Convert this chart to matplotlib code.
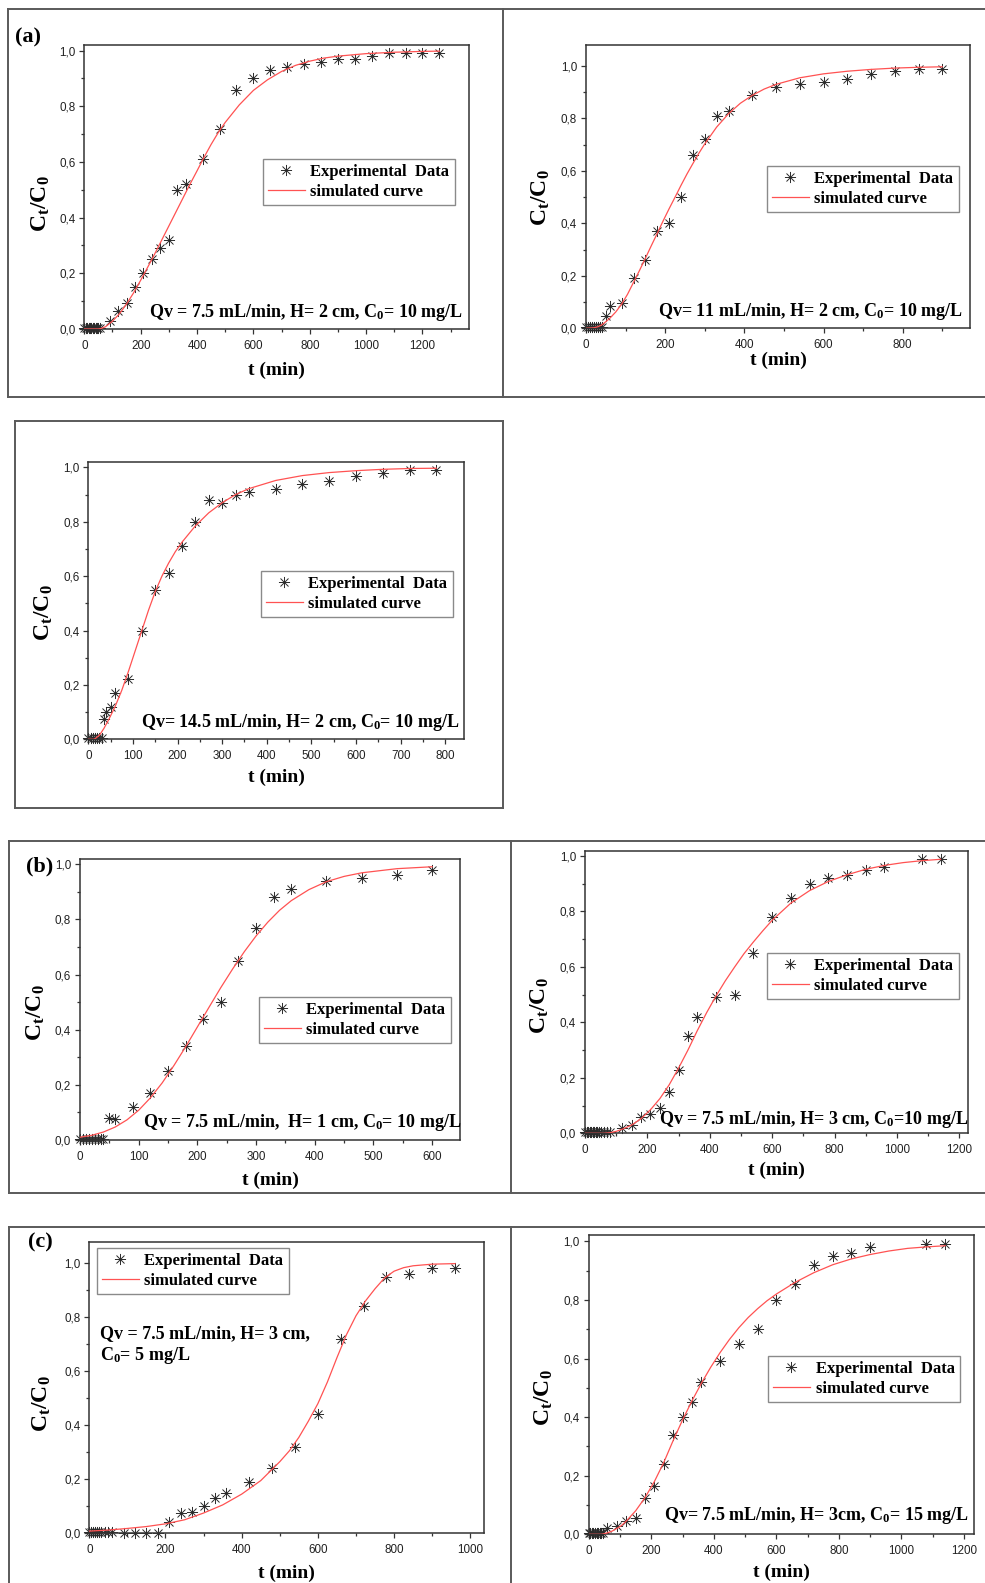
import matplotlib.pyplot as plt
from matplotlib.lines import Line2D
from matplotlib.path import Path
from matplotlib.ticker import MultipleLocator

W, H = 985, 1583

# ---------------- data ----------------
# (a) Qv = 7.5 mL/min, H = 2 cm, C0 = 10 mg/L
t_a1 = [0, 5, 10, 15, 20, 25, 30, 35, 40, 45, 50, 55, 90, 120, 150, 180, 210, 240, 270, 300,
        330, 360, 420, 480, 540, 600, 660, 720, 780, 840, 900, 960, 1020, 1080, 1140, 1200, 1260]
c_a1 = [0.005, 0.005, 0.005, 0.005, 0.005, 0.005, 0.005, 0.005, 0.005, 0.005, 0.005, 0.005,
        0.03, 0.065, 0.095, 0.15, 0.20, 0.25, 0.29, 0.32, 0.50, 0.52, 0.61, 0.72, 0.86, 0.90,
        0.93, 0.94, 0.95, 0.96, 0.97, 0.97, 0.98, 0.99, 0.99, 0.99, 0.99]
ts_a1 = [0, 50, 60, 75, 90, 100, 125, 150, 175, 200, 225, 250, 275, 300, 325, 350, 375, 400,
         425, 450, 475, 500, 550, 600, 650, 700, 750, 800, 850, 900, 1000, 1100, 1200, 1260]
cs_a1 = [0.0, 0.0, 0.002, 0.008, 0.02, 0.028, 0.055, 0.09, 0.13, 0.175, 0.222, 0.27, 0.32,
         0.37, 0.42, 0.47, 0.52, 0.568, 0.617, 0.663, 0.705, 0.742, 0.805, 0.857, 0.895,
         0.925, 0.947, 0.962, 0.973, 0.98, 0.989, 0.994, 0.997, 0.998]

# Qv = 11 mL/min, H = 2 cm, C0 = 10 mg/L
t_a2 = [0, 5, 10, 15, 20, 25, 30, 35, 40, 50, 60, 90, 120, 150, 180, 210, 240, 270, 300, 330,
        360, 420, 480, 540, 600, 660, 720, 780, 840, 900]
c_a2 = [0.004, 0.004, 0.004, 0.004, 0.004, 0.004, 0.004, 0.004, 0.004, 0.045, 0.085, 0.095,
        0.19, 0.26, 0.37, 0.40, 0.50, 0.66, 0.72, 0.81, 0.83, 0.89, 0.92, 0.93, 0.94, 0.95,
        0.97, 0.98, 0.99, 0.99]
ts_a2 = [0, 20, 30, 40, 50, 60, 75, 90, 105, 120, 135, 150, 165, 180, 195, 210, 225, 240, 255,
         270, 285, 300, 330, 360, 390, 420, 450, 480, 540, 600, 660, 720, 780, 840, 900]
cs_a2 = [0.0, 0.002, 0.006, 0.013, 0.025, 0.038, 0.062, 0.092, 0.13, 0.175, 0.22, 0.267, 0.315,
         0.362, 0.41, 0.456, 0.5, 0.545, 0.588, 0.628, 0.667, 0.703, 0.767, 0.818, 0.858,
         0.888, 0.912, 0.93, 0.955, 0.97, 0.98, 0.987, 0.992, 0.995, 0.997]

# Qv = 14.5 mL/min, H = 2 cm, C0 = 10 mg/L
t_a3 = [0, 5, 10, 15, 20, 25, 30, 35, 40, 50, 60, 90, 120, 150, 180, 210, 240, 270, 300, 330,
        360, 420, 480, 540, 600, 660, 720, 780]
c_a3 = [0.003, 0.003, 0.003, 0.003, 0.003, 0.003, 0.003, 0.075, 0.10, 0.12, 0.17, 0.22, 0.40,
        0.55, 0.61, 0.71, 0.80, 0.88, 0.87, 0.90, 0.91, 0.92, 0.94, 0.95, 0.97, 0.98, 0.99, 0.99]
ts_a3 = [0, 12, 15, 25, 35, 45, 60, 75, 90, 105, 120, 135, 150, 165, 180, 195, 210, 240, 270,
         300, 330, 360, 420, 480, 540, 600, 660, 720, 780]
cs_a3 = [0.0, 0.0, 0.002, 0.015, 0.04, 0.07, 0.12, 0.18, 0.25, 0.325, 0.40, 0.475, 0.543, 0.6,
         0.648, 0.69, 0.725, 0.785, 0.833, 0.87, 0.9, 0.922, 0.952, 0.97, 0.981, 0.988, 0.993,
         0.996, 0.997]

# (b) Qv = 7.5 mL/min, H = 1 cm, C0 = 10 mg/L
t_b1 = [0, 5, 10, 15, 20, 25, 30, 35, 40, 50, 60, 90, 120, 150, 180, 210, 240, 270, 300, 330,
        360, 420, 480, 540, 600]
c_b1 = [0.005, 0.005, 0.005, 0.005, 0.005, 0.005, 0.005, 0.005, 0.005, 0.08, 0.076, 0.12, 0.17,
        0.25, 0.34, 0.44, 0.50, 0.65, 0.77, 0.88, 0.91, 0.94, 0.95, 0.96, 0.98]
ts_b1 = [0, 20, 40, 60, 80, 100, 120, 140, 160, 180, 200, 220, 240, 260, 280, 300, 320, 340,
         360, 390, 420, 450, 480, 540, 600]
cs_b1 = [0.01, 0.017, 0.029, 0.047, 0.073, 0.108, 0.153, 0.207, 0.27, 0.338, 0.41, 0.482, 0.553,
         0.62, 0.683, 0.74, 0.79, 0.833, 0.868, 0.908, 0.937, 0.956, 0.969, 0.984, 0.991]

# Qv = 7.5 mL/min, H = 3 cm, C0 = 10 mg/L
t_b2 = [0, 5, 10, 15, 20, 25, 30, 35, 40, 45, 50, 60, 70, 80, 120, 150, 180, 210, 240, 270, 300,
        330, 360, 420, 480, 540, 600, 660, 720, 780, 840, 900, 960, 1080, 1140]
c_b2 = [0.005, 0.005, 0.005, 0.005, 0.005, 0.005, 0.005, 0.005, 0.005, 0.005, 0.005, 0.005,
        0.005, 0.005, 0.02, 0.03, 0.06, 0.07, 0.09, 0.15, 0.23, 0.35, 0.42, 0.49, 0.50, 0.65,
        0.78, 0.85, 0.90, 0.92, 0.93, 0.95, 0.96, 0.99, 0.99]
ts_b2 = [0, 60, 80, 100, 120, 150, 180, 210, 240, 270, 300, 330, 360, 390, 420, 450, 480, 510,
         540, 570, 600, 660, 720, 780, 840, 900, 960, 1020, 1080, 1140]
cs_b2 = [0.0, 0.0, 0.002, 0.007, 0.015, 0.03, 0.053, 0.085, 0.125, 0.175, 0.235, 0.3, 0.37,
         0.435, 0.495, 0.55, 0.6, 0.648, 0.69, 0.73, 0.768, 0.83, 0.875, 0.908, 0.932, 0.952,
         0.966, 0.976, 0.983, 0.988]

# (c) Qv = 7.5 mL/min, H = 3 cm, C0 = 5 mg/L
t_c1 = [0, 5, 10, 15, 20, 25, 30, 40, 50, 60, 90, 120, 150, 180, 210, 240, 270, 300, 330, 360,
        420, 480, 540, 600, 660, 720, 780, 840, 900, 960]
c_c1 = [0.004, 0.004, 0.004, 0.004, 0.004, 0.004, 0.004, 0.004, 0.004, 0.004, 0.0, 0.0, 0.0,
        0.0, 0.04, 0.075, 0.08, 0.10, 0.13, 0.15, 0.19, 0.24, 0.32, 0.44, 0.72, 0.84, 0.95,
        0.96, 0.98, 0.98]
ts_c1 = [0, 50, 100, 150, 200, 250, 300, 350, 400, 450, 500, 525, 550, 575, 600, 625, 650, 675,
         700, 725, 750, 775, 800, 825, 850, 900, 960]
cs_c1 = [0.008, 0.012, 0.018, 0.025, 0.035, 0.05, 0.075, 0.105, 0.145, 0.195, 0.265, 0.305,
         0.355, 0.415, 0.48, 0.56, 0.65, 0.735, 0.805, 0.86, 0.905, 0.945, 0.97, 0.983, 0.99,
         0.996, 0.998]

# Qv = 7.5 mL/min, H = 3 cm, C0 = 15 mg/L
t_c2 = [0, 5, 10, 15, 20, 25, 30, 35, 40, 45, 60, 90, 120, 150, 180, 210, 240, 270, 300, 330,
        360, 420, 480, 540, 600, 660, 720, 780, 840, 900, 1080, 1140]
c_c2 = [0.003, 0.003, 0.003, 0.003, 0.003, 0.003, 0.003, 0.003, 0.003, 0.003, 0.02, 0.03, 0.045,
        0.055, 0.125, 0.165, 0.24, 0.34, 0.40, 0.45, 0.52, 0.59, 0.65, 0.70, 0.80, 0.855, 0.92,
        0.95, 0.96, 0.98, 0.99, 0.99]
ts_c2 = [0, 40, 50, 60, 75, 90, 105, 120, 150, 180, 210, 240, 270, 300, 330, 360, 390, 420, 450,
         480, 510, 540, 570, 600, 660, 720, 780, 840, 900, 960, 1020, 1080, 1140]
cs_c2 = [0.0, 0.0, 0.002, 0.005, 0.011, 0.02, 0.03, 0.045, 0.08, 0.125, 0.18, 0.245, 0.32, 0.39,
         0.455, 0.515, 0.57, 0.62, 0.665, 0.705, 0.74, 0.77, 0.797, 0.82, 0.86, 0.893, 0.92,
         0.94, 0.955, 0.967, 0.976, 0.981, 0.985]

y_ticks = [0.0, 0.2, 0.4, 0.6, 0.8, 1.0]
y_tick_labels = ['0,0', '0,2', '0,4', '0,6', '0,8', '1,0']

notes = {
    'a1': 'Qv = 7.5 mL/min, H= 2 cm, C$_0$= 10 mg/L',
    'a2': 'Qv= 11 mL/min, H= 2 cm, C$_0$= 10 mg/L',
    'a3': 'Qv= 14.5 mL/min, H= 2 cm, C$_0$= 10 mg/L',
    'b1': 'Qv = 7.5 mL/min,  H= 1 cm, C$_0$= 10 mg/L',
    'b2': 'Qv = 7.5 mL/min, H= 3 cm, C$_0$=10 mg/L',
    'c1': 'Qv = 7.5 mL/min, H= 3 cm,\nC$_0$= 5 mg/L',
    'c2': 'Qv= 7.5 mL/min, H= 3cm, C$_0$= 15 mg/L',
}

# ---------------- layout (pixels) ----------------
panels = [
    dict(key='a1', t=t_a1, c=c_a1, ts=ts_a1, cs=cs_a1, box=(84.3, 45, 469, 329),
         xlim=1365, ylim=1.02, xmaj=200, xticks_max=1200, leg=(263, 159),
         note=(463, 317, 'right'), xlab=370, ylab=(41, 204)),
    dict(key='a2', t=t_a2, c=c_a2, ts=ts_a2, cs=cs_a2, box=(586, 45, 970, 328.3),
         xlim=970, ylim=1.08, xmaj=200, xticks_max=800, leg=(767, 166),
         note=(963, 316, 'right'), xlab=360, ylab=(541, 198)),
    dict(key='a3', t=t_a3, c=c_a3, ts=ts_a3, cs=cs_a3, box=(88.3, 461.7, 464, 739.3),
         xlim=842, ylim=1.021, xmaj=100, xticks_max=800, leg=(261, 571),
         note=(459, 727, 'right'), xlab=777, ylab=(44, 613)),
    dict(key='b1', t=t_b1, c=c_b1, ts=ts_b1, cs=cs_b1, box=(80, 859.3, 460.3, 1140),
         xlim=648, ylim=1.018, xmaj=100, xticks_max=600, leg=(259, 997),
         note=(461, 1127, 'right'), xlab=1180, ylab=(36, 1013)),
    dict(key='b2', t=t_b2, c=c_b2, ts=ts_b2, cs=cs_b2, box=(585, 850.7, 968.3, 1133.3),
         xlim=1229, ylim=1.019, xmaj=200, xticks_max=1200, leg=(767, 953),
         note=(968, 1124, 'right'), xlab=1170, ylab=(540, 1006)),
    dict(key='c1', t=t_c1, c=c_c1, ts=ts_c1, cs=cs_c1, box=(89.3, 1242, 484, 1533.3),
         xlim=1036, ylim=1.078, xmaj=200, xticks_max=1000, leg=(97, 1248),
         note=(100, 1360, 'left'), xlab=1573, ylab=(42, 1404)),
    dict(key='c2', t=t_c2, c=c_c2, ts=ts_c2, cs=cs_c2, box=(588.7, 1235, 974, 1534.3),
         xlim=1232, ylim=1.0216, xmaj=200, xticks_max=1200, leg=(768, 1356),
         note=(969, 1520, 'right'), xlab=1572, ylab=(544, 1398)),
]

frame_lines = [
    ((8, 985), (9, 9)), ((8, 985), (397, 397)), ((8, 8), (9, 397)), ((503, 503), (9, 397)),
    ((15, 503), (421, 421)), ((15, 503), (808, 808)), ((15, 15), (421, 808)), ((503, 503), (421, 808)),
    ((9, 985), (841, 841)), ((9, 985), (1193, 1193)), ((9, 9), (841, 1193)), ((511, 511), (841, 1193)),
    ((9, 985), (1227, 1227)), ((9, 9), (1227, 1583)), ((511, 511), (1227, 1583)),
]

panel_letters = [('(a)', 27.5, 37.5), ('(b)', 39.5, 866), ('(c)', 40, 1242)]

plt.rcParams['font.family'] = 'Liberation Serif'
plt.rcParams['mathtext.fontset'] = 'custom'
plt.rcParams['mathtext.rm'] = 'Liberation Serif:bold'
plt.rcParams['mathtext.default'] = 'regular'

# Origin-style asterisk symbol (8 spokes)
star = Path([(-1, 0), (1, 0), (0, -1), (0, 1),
             (-0.72, -0.72), (0.72, 0.72), (-0.72, 0.72), (0.72, -0.72)],
            [Path.MOVETO, Path.LINETO] * 4)


def fx(x):
    return x / W


def fy(y):
    return 1 - y / H


fig = plt.figure(figsize=(W / 100, H / 100), dpi=100)

for (xs, ys) in frame_lines:
    fig.add_artist(Line2D([fx(v) for v in xs], [fy(v) for v in ys],
                          transform=fig.transFigure, color='#5a5a5a', lw=1.4))

for lab, x, y in panel_letters:
    fig.text(fx(x), fy(y), lab, fontsize=16, fontweight='bold', ha='center', va='center')

for p in panels:
    l, t, r, b = p['box']
    ax = fig.add_axes([fx(l), fy(b), (r - l) / W, (b - t) / H])
    ax.plot(p['t'], p['c'], linestyle='none', marker=star, ms=8, mew=0.7,
            mec='#2a2a2a', mfc='none', label='Experimental  Data', zorder=2, clip_on=False)
    ax.plot(p['ts'], p['cs'], color='#ff5252', lw=0.9, label='simulated curve', zorder=3)
    ax.set_xlim(0, p['xlim'])
    ax.set_ylim(0, p['ylim'])

    xt = list(range(0, p['xticks_max'] + 1, p['xmaj']))
    ax.set_xticks(xt, [str(v) for v in xt], fontfamily='Liberation Sans', fontsize=8.4)
    ax.set_yticks(y_ticks, y_tick_labels, fontfamily='Liberation Sans', fontsize=8.4)
    ax.xaxis.set_minor_locator(MultipleLocator(p['xmaj'] / 2))
    ax.yaxis.set_minor_locator(MultipleLocator(0.1))
    ax.tick_params(which='both', direction='out', top=False, right=False,
                   color='#333333', labelcolor='#222222', width=0.9)
    ax.tick_params(which='major', length=3.6)
    ax.tick_params(which='minor', length=2.2)
    ax.tick_params(axis='x', pad=4)
    ax.tick_params(axis='y', pad=2.8)
    for s in ax.spines.values():
        s.set_color('#333333')
        s.set_linewidth(1.1)

    ax.set_xlabel('t (min)', fontsize=14, fontweight='bold')
    ax.xaxis.set_label_coords(fx((l + r) / 2), fy(p['xlab']), transform=fig.transFigure)
    ax.xaxis.label.set_va('center')
    ax.set_ylabel('C$_t$/C$_0$', fontsize=17, fontweight='bold')
    ax.yaxis.set_label_coords(fx(p['ylab'][0]), fy(p['ylab'][1]), transform=fig.transFigure)
    ax.yaxis.label.set_va('center')

    nx, ny, ha = p['note']
    fig.text(fx(nx), fy(ny), notes[p['key']], fontsize=13, fontweight='bold',
             ha=ha, va='baseline', linespacing=1.2)

    leg = ax.legend(loc='upper left', bbox_to_anchor=(fx(p['leg'][0]), fy(p['leg'][1])),
                    bbox_transform=fig.transFigure, borderaxespad=0, fancybox=False,
                    edgecolor='#8a8a8a', framealpha=1, handlelength=2.2, handletextpad=0.35,
                    borderpad=0.3, labelspacing=0.25,
                    prop=dict(family='Liberation Serif', weight='bold', size=12))
    leg.get_frame().set_linewidth(1.0)

fig.savefig('out.png', dpi=100)
